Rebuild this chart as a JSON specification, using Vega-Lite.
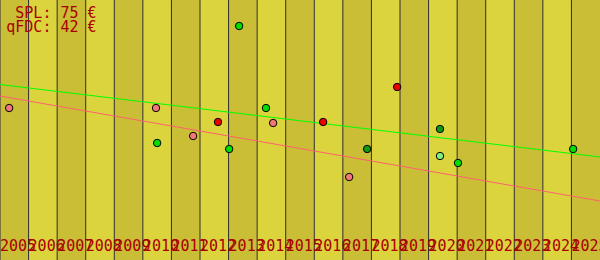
{
  "$schema": "https://vega.github.io/schema/vega-lite/v6.json",
  "autosize": {"type": "none"},
  "width": 600,
  "height": 260,
  "padding": 0,
  "background": "#dcd43c",
  "view": {"stroke": "#333344", "strokeWidth": 1},
  "config": {"axis": {"grid": false}},
  "resolve": {"scale": {"fill": "independent", "color": "independent"}},
  "datasets": {
    "bands": [
      {"year": 2005, "end": 2006, "label": "2005", "shade": "dark"},
      {"year": 2006, "end": 2007, "label": "2006", "shade": "light"},
      {"year": 2007, "end": 2008, "label": "2007", "shade": "dark"},
      {"year": 2008, "end": 2009, "label": "2008", "shade": "light"},
      {"year": 2009, "end": 2010, "label": "2009", "shade": "dark"},
      {"year": 2010, "end": 2011, "label": "2010", "shade": "light"},
      {"year": 2011, "end": 2012, "label": "2011", "shade": "dark"},
      {"year": 2012, "end": 2013, "label": "2012", "shade": "light"},
      {"year": 2013, "end": 2014, "label": "2013", "shade": "dark"},
      {"year": 2014, "end": 2015, "label": "2014", "shade": "light"},
      {"year": 2015, "end": 2016, "label": "2015", "shade": "dark"},
      {"year": 2016, "end": 2017, "label": "2016", "shade": "light"},
      {"year": 2017, "end": 2018, "label": "2017", "shade": "dark"},
      {"year": 2018, "end": 2019, "label": "2018", "shade": "light"},
      {"year": 2019, "end": 2020, "label": "2019", "shade": "dark"},
      {"year": 2020, "end": 2021, "label": "2020", "shade": "light"},
      {"year": 2021, "end": 2022, "label": "2021", "shade": "dark"},
      {"year": 2022, "end": 2023, "label": "2022", "shade": "light"},
      {"year": 2023, "end": 2024, "label": "2023", "shade": "dark"},
      {"year": 2024, "end": 2025, "label": "2024", "shade": "light"},
      {"year": 2025, "end": 2026, "label": "2025", "shade": "dark"}
    ],
    "points": [
      {"t": 2005.32, "v": 152, "kind": "salmon"},
      {"t": 2010.46, "v": 152, "kind": "salmon"},
      {"t": 2010.50, "v": 117, "kind": "green"},
      {"t": 2011.76, "v": 124, "kind": "salmon"},
      {"t": 2012.63, "v": 138, "kind": "red"},
      {"t": 2013.02, "v": 111, "kind": "green"},
      {"t": 2013.37, "v": 234, "kind": "green"},
      {"t": 2014.31, "v": 152, "kind": "green"},
      {"t": 2014.56, "v": 137, "kind": "salmon"},
      {"t": 2016.31, "v": 138, "kind": "red"},
      {"t": 2017.22, "v": 83, "kind": "salmon"},
      {"t": 2017.85, "v": 111, "kind": "darkgreen"},
      {"t": 2018.90, "v": 173, "kind": "red"},
      {"t": 2020.40, "v": 131, "kind": "darkgreen"},
      {"t": 2020.40, "v": 104, "kind": "lightgreen"},
      {"t": 2021.03, "v": 97, "kind": "green"},
      {"t": 2025.06, "v": 111, "kind": "green"}
    ],
    "trends": [
      {"t": 2005, "v": 175.5, "series": "SPL"},
      {"t": 2026, "v": 103, "series": "SPL"},
      {"t": 2005, "v": 164, "series": "qFDC"},
      {"t": 2026, "v": 59, "series": "qFDC"}
    ],
    "notes": [
      {"t": 2008.38, "v": 242.5, "text": "SPL: 75 €"},
      {"t": 2008.38, "v": 228, "text": "qFDC: 42 €"}
    ]
  },
  "layer": [
    {
      "data": {"name": "bands"},
      "mark": {"type": "rect", "strokeWidth": 0},
      "encoding": {
        "x": {"field": "year", "type": "quantitative", "scale": {"domain": [2005, 2026], "nice": false, "zero": false}, "axis": null},
        "x2": {"field": "end"},
        "fill": {"field": "shade", "type": "nominal", "scale": {"domain": ["dark", "light"], "range": ["#c9be35", "#dcd43c"]}, "legend": null}
      }
    },
    {
      "data": {"name": "bands"},
      "mark": {"type": "rule", "color": "#2e2e3a", "strokeWidth": 1},
      "encoding": {
        "x": {"field": "year", "type": "quantitative"}
      }
    },
    {
      "data": {"name": "trends"},
      "mark": {"type": "line", "strokeWidth": 1},
      "encoding": {
        "x": {"field": "t", "type": "quantitative"},
        "y": {"field": "v", "type": "quantitative", "scale": {"domain": [0, 260], "nice": false}, "axis": null},
        "detail": {"field": "series"},
        "color": {"field": "series", "type": "nominal", "scale": {"domain": ["SPL", "qFDC"], "range": ["#00ff00", "#ff6070"]}, "legend": null}
      }
    },
    {
      "data": {"name": "points"},
      "mark": {"type": "circle", "size": 55, "stroke": "#000000", "strokeWidth": 1, "opacity": 1, "fillOpacity": 1},
      "encoding": {
        "x": {"field": "t", "type": "quantitative"},
        "y": {"field": "v", "type": "quantitative"},
        "fill": {"field": "kind", "type": "nominal", "scale": {"domain": ["salmon", "red", "green", "darkgreen", "lightgreen"], "range": ["#f07878", "#ee0000", "#00e000", "#109a10", "#80f080"]}, "legend": null}
      }
    },
    {
      "data": {"name": "bands"},
      "mark": {"type": "text", "align": "left", "baseline": "alphabetic", "font": "DejaVu Sans Mono", "fontSize": 15, "color": "#a80000"},
      "encoding": {
        "x": {"field": "year", "type": "quantitative"},
        "y": {"datum": 9, "type": "quantitative"},
        "text": {"field": "label"}
      }
    },
    {
      "data": {"name": "notes"},
      "mark": {"type": "text", "align": "right", "baseline": "alphabetic", "font": "DejaVu Sans Mono", "fontSize": 15, "color": "#a80000"},
      "encoding": {
        "x": {"field": "t", "type": "quantitative"},
        "y": {"field": "v", "type": "quantitative"},
        "text": {"field": "text"}
      }
    }
  ]
}
